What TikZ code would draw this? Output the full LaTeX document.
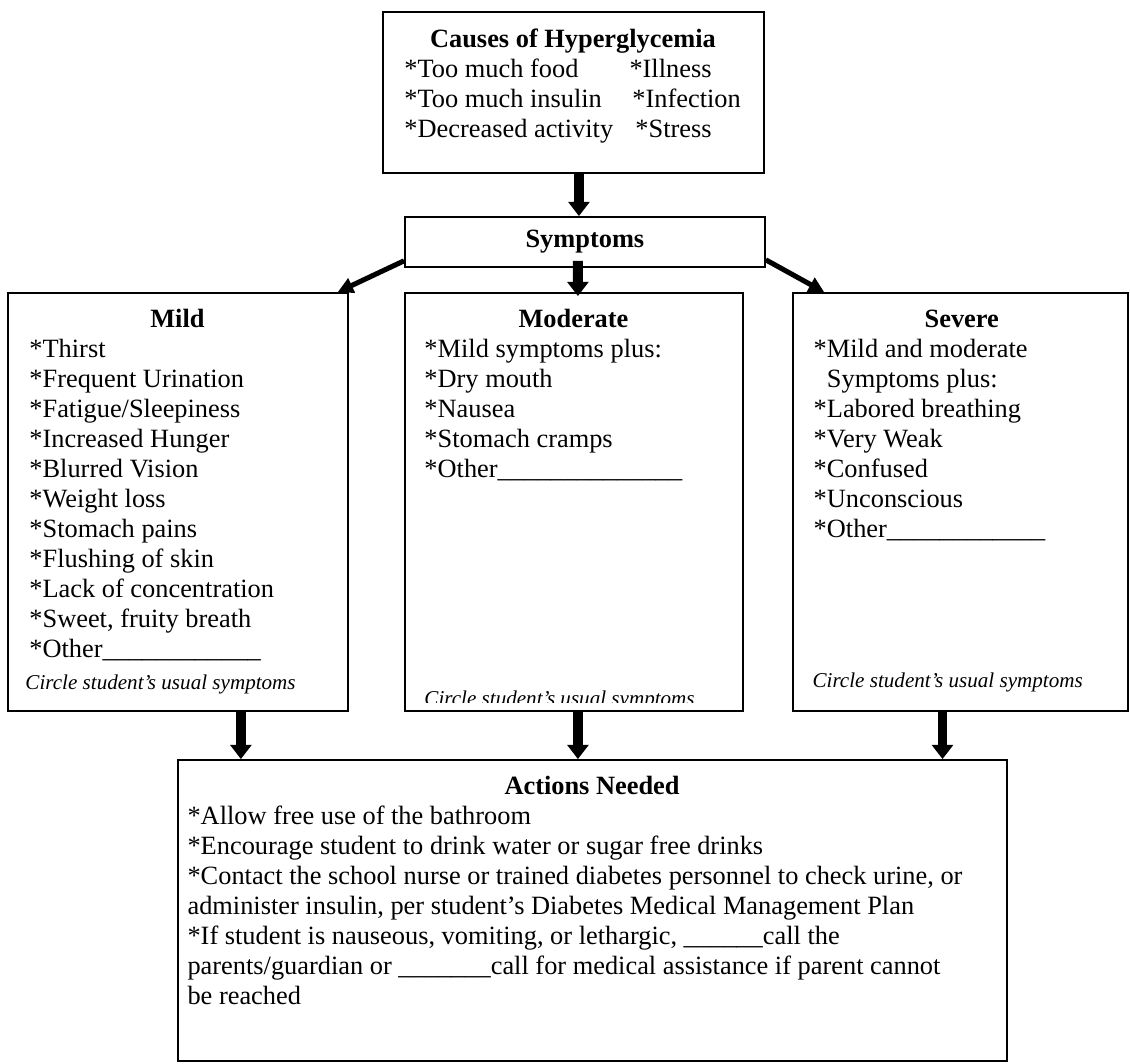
\documentclass[tikz,border=0pt]{standalone}
\usepackage{fontspec}
\setmainfont{Liberation Serif}
\usetikzlibrary{shapes, arrows.meta, positioning}

\begin{document}
\begin{tikzpicture}[node distance=2cm, font=\fontsize{12pt}{13.65pt}\selectfont]
    \tikzstyle{box} = [rectangle, draw, line width=0.8pt, inner sep=0pt]
    \tikzstyle{list} = [align=left, inner sep=0pt]
    \tikzstyle{note} = [inner sep=0pt, font=\fontsize{9.6pt}{11pt}\selectfont\itshape]
    \tikzstyle{arrow} = [line width=4.5pt, -{Triangle[width=9.5pt, length=6.5pt]}]
    \tikzstyle{side} = [line width=2.3pt, -{Triangle[width=7pt, length=7pt]}]

    \useasboundingbox (-260.94pt,42.09pt) rectangle (253.21pt,-441.58pt);

    \node (causes) [box, minimum width=173.4pt, minimum height=73.3pt] {};
    \node (symptoms) [box, below of=causes, node distance=68pt, xshift=5.2pt, minimum width=163.8pt, minimum height=22.75pt] {\textbf{Symptoms}};
    \node (moderate) [box, below of=symptoms, node distance=118.3pt, xshift=-5pt, minimum width=153.8pt, minimum height=190.2pt] {};
    \node (mild) [box, left of=moderate, node distance=180.2pt, minimum width=154.7pt, minimum height=190.2pt] {};
    \node (severe) [box, right of=moderate, node distance=175.9pt, minimum width=152.4pt, minimum height=190.2pt] {};
    \node (actions) [box, below of=moderate, node distance=185.9pt, xshift=8.4pt, minimum width=377.2pt, minimum height=137pt] {};

    % box texts
    \node (causeslist) [list, below right=7.8pt and 10pt of causes.north west] {\makebox[153.3pt]{\textbf{Causes of Hyperglycemia}}\\
        \makebox[102.4pt][l]{*Too much food}*Illness\\
        \makebox[103.7pt][l]{*Too much insulin}*Infection\\
        \makebox[105.1pt][l]{*Decreased activity}*Stress};
    \node (mildlist) [list, below right=7.8pt and 10pt of mild.north west] {\makebox[134.7pt]{\textbf{Mild}}\\
        {*}Thirst\\ {*}Frequent Urination\\ {*}Fatigue/Sleepiness\\ {*}Increased Hunger\\
        {*}Blurred Vision\\ {*}Weight loss\\ {*}Stomach pains\\ {*}Flushing of skin\\
        {*}Lack of concentration\\ {*}Sweet, fruity breath\\
        {*}Other\_\_\_\_\_\_\_\_\_\_\_\_};
    \node (moderatelist) [list, below right=7.8pt and 9.1pt of moderate.north west] {\makebox[135.6pt]{\textbf{Moderate}}\\
        {*}Mild symptoms plus:\\ {*}Dry mouth\\ {*}Nausea\\ {*}Stomach cramps\\
        {*}Other\_\_\_\_\_\_\_\_\_\_\_\_\_\_};
    \node (severelist) [list, below right=8.2pt and 9.6pt of severe.north west] {\makebox[134.7pt]{\textbf{Severe}}\\
        {*}Mild and moderate\\ \phantom{*}Symptoms plus:\\ {*}Labored breathing\\
        {*}Very Weak\\ {*}Confused\\ {*}Unconscious\\
        {*}Other\_\_\_\_\_\_\_\_\_\_\_\_};
    \node (actionslist) [list, below right=7.8pt and 4.6pt of actions.north west] {\makebox[368.1pt]{\textbf{Actions Needed}}\\
        {*}Allow free use of the bathroom\\
        {*}Encourage student to drink water or sugar free drinks\\
        {*}Contact the school nurse or trained diabetes personnel to check urine, or\\
        administer insulin, per student's Diabetes Medical Management Plan\\
        {*}If student is nauseous, vomiting, or lethargic, \_\_\_\_\_\_call the\\
        parents/guardian or \_\_\_\_\_\_\_call for medical assistance if parent cannot\\
        be reached};

    \node (mildnote) [note, above right=7.9pt and 8.2pt of mild.south west] {Circle student's usual symptoms};
    \node (severenote) [note, above right=8.8pt and 9.1pt of severe.south west] {Circle student's usual symptoms};
    \begin{scope}
        \clip ([yshift=4.1pt]moderate.south west) rectangle (moderate.north east);
        \node (moderatenote) [note, above right=0.6pt and 9.1pt of moderate.south west] {Circle student's usual symptoms};
    \end{scope}

    % arrows
    \draw [arrow] ([xshift=2.5pt]causes.south) -- ([xshift=-2.73pt]symptoms.north);
    \draw [arrow] ([xshift=-3.19pt, yshift=3.19pt]symptoms.south) -- ([xshift=1.82pt, yshift=-1.82pt]moderate.north);
    \draw [side] ([yshift=3.19pt]symptoms.south west) -- ([xshift=-5pt]mild.north east);
    \draw [side] ([yshift=3.64pt]symptoms.south east) -- ([xshift=14.56pt]severe.north west);
    \draw [arrow] ([xshift=28.67pt]mild.south) -- ([xshift=28.67pt]mild.south |- actions.north);
    \draw [arrow] ([xshift=1.82pt]moderate.south) -- ([xshift=1.82pt]moderate.south |- actions.north);
    \draw [arrow] ([xshift=-8.19pt]severe.south) -- ([xshift=-8.19pt]severe.south |- actions.north);
\end{tikzpicture}
\end{document}
